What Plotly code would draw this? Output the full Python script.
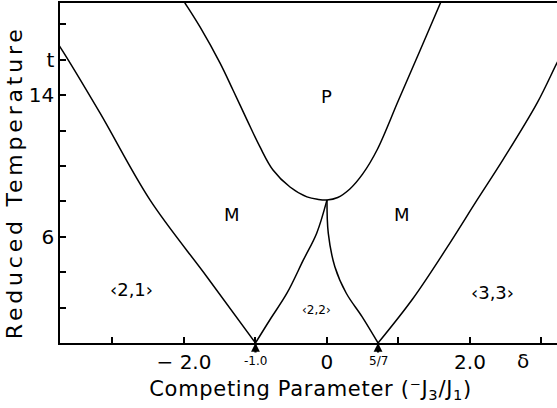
import plotly.graph_objects as go

# Axis ticks and labels
x_major = [-2, 0, 2]
x_major_labels = ["\u2212 2.0", "0", "2.0"]
x_minor = [-3, -1, 1, 3]
y_major = [6, 14, 16]
y_major_labels = ["6", "14", "t"]
y_minor = [2, 4, 8, 10, 12, 18]

# Phase boundaries: competing parameter (-J3/J1) vs reduced temperature
# <2,1> / M boundary
b21_x = [-3.80, -3.734, -3.175, -2.476, -1.678, -1.0]
b21_t = [17.10, 16.72, 12.99, 8.08, 3.73, 0.0]

# paramagnetic (P) boundary
bp_x = [-2.05, -1.986, -1.776, -1.497, -1.315, -1.119, -0.937, -0.755, -0.517, -0.280,
        -0.12, 0.0, 0.15, 0.32, 0.50, 0.70, 1.00, 1.30, 1.594, 1.63]
bp_t = [19.60, 19.20, 17.85, 15.82, 14.29, 12.60, 11.07, 9.77, 8.81, 8.25,
        8.11, 8.08, 8.22, 8.70, 9.55, 10.90, 13.71, 16.50, 19.27, 19.60]

# M / <2,2> boundary (left)
b22l_x = [0.0, -0.144, -0.33, -0.56, -0.80, -1.0]
b22l_t = [8.08, 6.20, 4.69, 2.81, 1.30, 0.0]

# M / <2,2> boundary (right)
b22r_x = [0.0, 0.018, 0.11, 0.27, 0.49, 5 / 7]
b22r_t = [8.08, 6.20, 4.31, 2.81, 1.49, 0.0]

# <3,3> / M boundary
b33_x = [5 / 7, 1.20, 1.68, 2.10, 2.46, 2.94, 3.217, 3.30]
b33_t = [0.0, 2.50, 5.40, 8.08, 10.34, 13.56, 15.82, 16.45]

# Multiphase points on the temperature-zero axis
special_x = [-1.0, 5 / 7]
special_labels = ["-1.0", "5/7"]

# Phase names
phase_names = ["P", "M", "M", "\u20392,1\u203a", "\u20392,2\u203a", "\u20393,3\u203a"]
phase_x = [0.0, -1.33, 1.05, -2.73, -0.14, 2.31]
phase_t = [13.9, 7.23, 7.23, 3.0, 1.86, 2.88]
phase_sizes = [18, 18, 18, 18, 12, 18]

FONT = "DejaVu Sans"
INK = "black"

fig = go.Figure()

for xs, ts in [(b21_x, b21_t), (bp_x, bp_t), (b22l_x, b22l_t),
               (b22r_x, b22r_t), (b33_x, b33_t)]:
    fig.add_trace(go.Scatter(
        x=xs, y=ts, mode="lines",
        line=dict(color=INK, width=1.5, shape="spline", smoothing=1.0),
        hoverinfo="skip", showlegend=False))

annotations = []
for name, px, pt, sz in zip(phase_names, phase_x, phase_t, phase_sizes):
    annotations.append(dict(x=px, y=pt, xref="x", yref="y", text=name,
                            showarrow=False, font=dict(family=FONT, size=sz, color=INK)))
# special points: small label below the axis with an arrow up to the axis
for sx, lab in zip(special_x, special_labels):
    annotations.append(dict(x=sx, y=0, xref="x", yref="paper", text=lab,
                            showarrow=True, ax=0, ay=18, arrowhead=2, arrowsize=0.8,
                            arrowwidth=2.2, arrowcolor=INK, standoff=0,
                            font=dict(family=FONT, size=12, color=INK)))
annotations.append(dict(x=2.74, y=-0.053, xref="x", yref="paper", text="\u03b4",
                        xanchor="center", yanchor="middle",
                        showarrow=False, font=dict(family=FONT, size=20, color=INK)))
annotations.append(dict(x=0.505, y=-0.138, xref="paper", yref="paper",
                        xanchor="center", yanchor="middle",
                        text="Competing Parameter (\u207bJ<sub>3</sub>/J<sub>1</sub>)",
                        showarrow=False, font=dict(family=FONT, size=21, color=INK)))
annotations.append(dict(x=-0.09, y=0.474, xref="paper", yref="paper",
                        xanchor="center", yanchor="middle",
                        text="Reduced Temperature", textangle=-90,
                        showarrow=False, font=dict(family=FONT, size=22, color=INK)))

fig.update_layout(
    width=557, height=408,
    margin=dict(l=60, r=0, t=3, b=65),
    paper_bgcolor="white", plot_bgcolor="white",
    annotations=annotations,
    xaxis=dict(range=[-3.734, 3.217], tickmode="array", tickvals=x_major,
               ticktext=x_major_labels, ticks="inside", ticklen=6, tickwidth=1.5,
               tickcolor=INK, showline=True, linewidth=2, linecolor=INK,
               mirror=True, showgrid=False, zeroline=False,
               minor=dict(tickmode="array", tickvals=x_minor, ticks="inside",
                          ticklen=6, tickwidth=1.5, tickcolor=INK, showgrid=False),
               tickfont=dict(family=FONT, size=20, color=INK)),
    yaxis=dict(range=[0, 19.2], tickmode="array", tickvals=y_major,
               ticktext=y_major_labels, ticks="inside", ticklen=6, tickwidth=1.5,
               tickcolor=INK, showline=True, linewidth=1.5, linecolor=INK,
               showgrid=False, zeroline=False,
               minor=dict(tickmode="array", tickvals=y_minor, ticks="inside",
                          ticklen=6, tickwidth=1.5, tickcolor=INK, showgrid=False),
               tickfont=dict(family=FONT, size=20, color=INK)),
)

# widen the lettering of the axis titles
spacing_js = """
document.querySelectorAll('.annotation-text').forEach(function (t) {
  var s = t.textContent;
  if (s.indexOf('Reduced') === 0) { t.style.letterSpacing = '3.8px'; }
  if (s.indexOf('Competing') === 0) { t.style.letterSpacing = '0.7px'; }
});
"""

fig.write_html("out.html", post_script=spacing_js)
